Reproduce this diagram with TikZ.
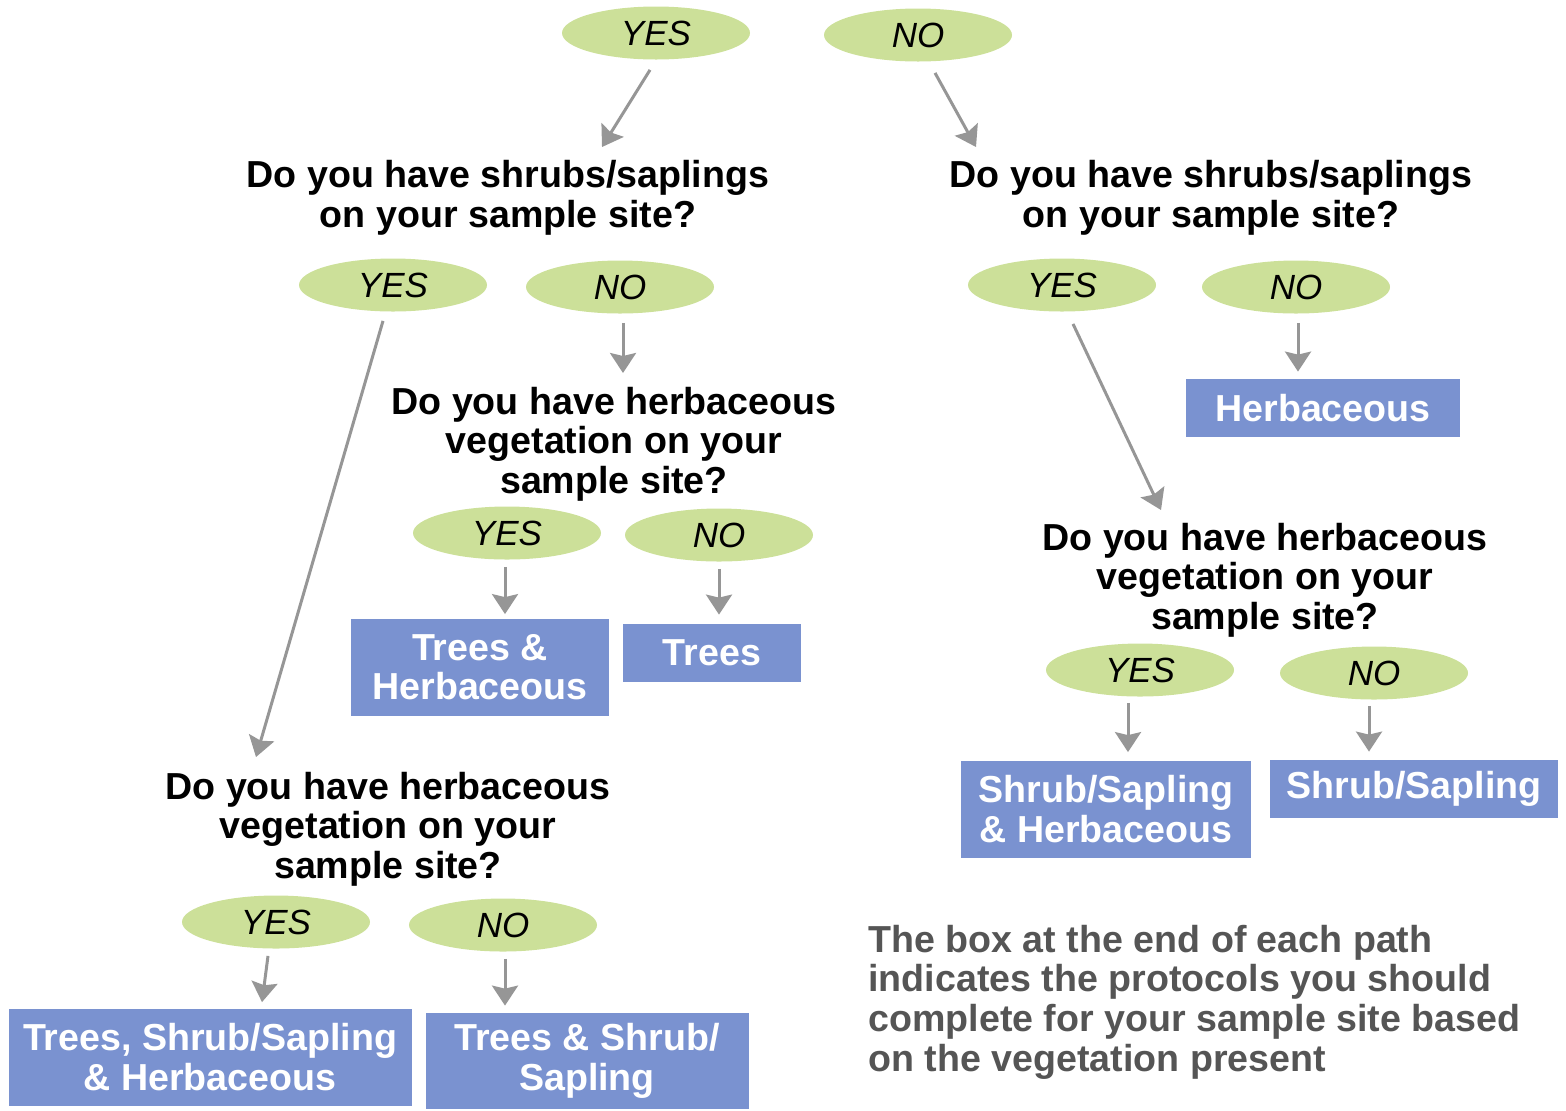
\documentclass[tikz,border=0pt]{standalone}
\usepackage{fontspec}
\setmainfont{Liberation Sans}
\usetikzlibrary{shapes.geometric,arrows.meta}
\definecolor{answergreen}{RGB}{204,224,153}
\definecolor{resultblue}{RGB}{122,146,208}
\definecolor{arrowgray}{RGB}{150,150,150}
\definecolor{notegray}{RGB}{85,85,85}
\tikzset{
  answer/.style={ellipse, fill=answergreen, minimum width=94pt, minimum height=26.5pt,
    inner sep=0pt, font=\fontsize{17.5}{18}\selectfont\itshape},
  question/.style={align=center, font=\fontsize{18.8}{19.8}\selectfont\bfseries},
  result/.style={fill=resultblue, text=white, align=center, inner sep=0pt,
    font=\fontsize{18.8}{19.8}\selectfont\bfseries},
  note/.style={align=left, text=notegray, inner sep=0pt,
    font=\fontsize{18.8}{19.8}\selectfont\bfseries},
  arr/.style={draw=arrowgray, line width=1.5pt, -{Stealth[width=13pt,length=10pt,inset=1.5pt]}}
}
\begin{document}
\begin{tikzpicture}[x=0.5pt,y=-0.5pt]
  \useasboundingbox (0,0) rectangle (1566,1110);

  % first answer
  \node[answer] (yes1) at (656,33) {YES};
  \node[answer] (no1) at (918,35) {NO};

  % left branch
  \node[question] (q1l) at (508,198) {Do you have shrubs/saplings\\on your sample site?};
  \node[answer] (yes2l) at (393,285) {YES};
  \node[answer] (no2l) at (620,287) {NO};
  \node[question] (q2m) at (614,444) {Do you have herbaceous\\vegetation on your\\sample site?};
  \node[answer] (yes3) at (507,533) {YES};
  \node[answer] (no3) at (719,535) {NO};
  \node[result, minimum width=129pt, minimum height=48.5pt] (bth) at (480,667) {Trees \&\\Herbaceous};
  \node[result, minimum width=89pt, minimum height=29pt] (btr) at (712,653) {Trees};
  \node[question] (q3) at (388,829) {Do you have herbaceous\\vegetation on your\\sample site?};
  \node[answer] (yes4) at (276,922) {YES};
  \node[answer] (no4) at (503,925) {NO};
  \node[result, minimum width=201.5pt, minimum height=48.5pt] (btsh) at (210,1057) {Trees, Shrub/Sapling\\\& Herbaceous};
  \node[result, minimum width=161.5pt, minimum height=48pt] (btss) at (587,1061) {Trees \& Shrub/\\Sapling};

  % right branch
  \node[question] (q1r) at (1211,198) {Do you have shrubs/saplings\\on your sample site?};
  \node[answer] (yes2r) at (1062,285) {YES};
  \node[answer] (no2r) at (1296,287) {NO};
  \node[result, minimum width=137pt, minimum height=29pt] (bhe) at (1323,408) {Herbaceous};
  \node[question] (q2r) at (1265,580) {Do you have herbaceous\\vegetation on your\\sample site?};
  \node[answer] (yes5) at (1140,670) {YES};
  \node[answer] (no5) at (1374,673) {NO};
  \node[result, minimum width=145pt, minimum height=48.5pt] (bssh) at (1106,809) {Shrub/Sapling\\\& Herbaceous};
  \node[result, minimum width=144pt, minimum height=29pt] (bss) at (1414,789) {Shrub/Sapling};

  \node[note, anchor=west] (note) at (868,1002) {The box at the end of each path\\indicates the protocols you should\\complete for your sample site based\\on the vegetation present};

  % arrow tips
  \coordinate (t1) at (602,147);
  \coordinate (t2) at (976,147);
  \coordinate (t3) at (256,757);
  \coordinate (t4) at (1161,510);
  \coordinate (t5) at (623,373);

  \draw[arr] ([shift={(-6,10)}]yes1.south) -- (t1);
  \draw[arr] ([shift={(17,11)}]no1.south) -- (t2);
  \draw[arr] ([shift={(-10,9)}]yes2l.south) -- (t3);
  \draw[arr] ([shift={(11,12)}]yes2r.south) -- (t4);
  \draw[arr] ([shift={(3,9)}]no2l.south) -- (t5);
  \draw[arr, shorten <=3.5pt, shorten >=2pt] ([xshift=-1pt]yes3.south) -- ([xshift=-1pt]yes3.south |- bth.north);
  \draw[arr, shorten <=3.5pt, shorten >=4.5pt] (no3.south) -- (no3.south |- btr.north);
  \draw[arr] ([shift={(-8,7)}]yes4.south) -- ([shift={(-14,-6)}]yes4.south |- btsh.north);
  \draw[arr, shorten <=3.5pt, shorten >=3.5pt] ([xshift=1pt]no4.south) -- ([xshift=1pt]no4.south |- btss.north);
  \draw[arr] ([shift={(-12,6)}]yes5.south) -- ([shift={(-12,-8)}]yes5.south |- bssh.north);
  \draw[arr] ([shift={(-5,6)}]no5.south) -- ([shift={(-5,-8)}]no5.south |- bss.north);
  \draw[arr] ([shift={(2,9)}]no2r.south) -- ([shift={(2,-7)}]no2r.south |- bhe.north);
\end{tikzpicture}
\end{document}
